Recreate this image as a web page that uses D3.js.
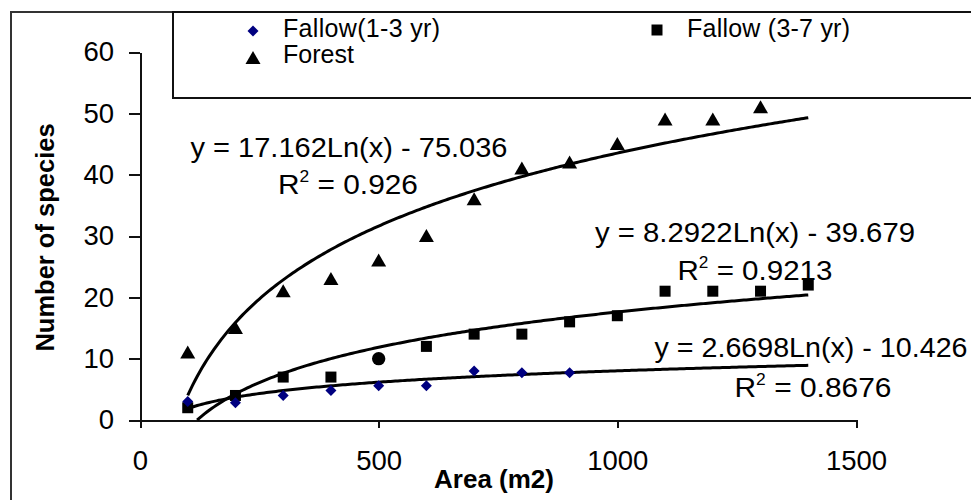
<!DOCTYPE html>
<html>
<head>
<meta charset="utf-8">
<script src="https://cdn.jsdelivr.net/npm/d3@7"></script>
<style>
  html, body { margin: 0; padding: 0; background: #fff; }
  svg { display: block; }
  text { font-family: "Liberation Sans", Arial, sans-serif; fill: #000; }
</style>
</head>
<body>
<svg id="chart" width="971" height="500"></svg>
<script>
// ---------------- data ----------------
const areas = [100, 200, 300, 400, 500, 600, 700, 800, 900, 1000, 1100, 1200, 1300, 1400];
const fallow13 = [3, 2.8, 4, 4.8, 5.6, 5.6, 8, 7.7, 7.7];            // areas 100..900
const fallow37 = [2, 4, 7, 7, 10, 12, 14, 14, 16, 17, 21, 21, 21, 22];
const forest   = [11, 15, 21, 23, 26, 30, 36, 41, 42, 45, 49, 49, 51];  // areas 100..1300
const seriesNames = ["Fallow(1-3 yr)", "Fallow (3-7 yr)", "Forest"];
const fitA = [2.6698, 8.2922, 17.162];   // y = a ln(x) + b
const fitB = [-10.426, -39.679, -75.036];
const fitR2 = ["0.8676", "0.9213", "0.926"];
const eqLabels = ["y = 2.6698Ln(x) - 10.426", "y = 8.2922Ln(x) - 39.679", "y = 17.162Ln(x) - 75.036"];
const xTicks = [0, 500, 1000, 1500];
const yTicks = [0, 10, 20, 30, 40, 50, 60];
const xTitle = "Area (m2)";
const yTitle = "Number of species";

// ---------------- layout ----------------
const svg = d3.select("#chart");
const x = d3.scaleLinear().domain([0, 1500]).range([140, 856]);
const y = d3.scaleLinear().domain([0, 60]).range([420, 52]);

// outer frame
svg.append("rect").attr("x", 11).attr("y", 12).attr("width", 1000).attr("height", 520)
  .attr("fill", "none").attr("stroke", "#333").attr("stroke-width", 2);

// legend box
svg.append("rect").attr("x", 173).attr("y", 12).attr("width", 900).attr("height", 86)
  .attr("fill", "#fff").attr("stroke", "#111").attr("stroke-width", 2);

// axes
const yAxis = d3.axisLeft(y).tickValues(yTicks).tickSize(11).tickSizeOuter(0).tickPadding(15);
const gy = svg.append("g").attr("transform", `translate(${x(0)},0)`).call(yAxis);
const xAxis = d3.axisBottom(x).tickValues(xTicks).tickFormat(d3.format("d"))
  .tickSize(8).tickSizeOuter(0).tickPadding(22);
const gx = svg.append("g").attr("transform", `translate(0,${y(0)})`).call(xAxis);
[gx, gy].forEach(g => {
  g.selectAll("path, line").attr("stroke", "#111").attr("stroke-width", 2).attr("shape-rendering", "crispEdges");
  g.selectAll("text").attr("font-size", 27.5).attr("font-family", "Liberation Sans, Arial, sans-serif").attr("fill", "#111");
});

// axis titles
svg.append("text").attr("x", 494).attr("y", 488).attr("text-anchor", "middle")
  .attr("font-size", 26).attr("font-weight", "bold").text(xTitle);
svg.append("text").attr("transform", "translate(54,237.5) rotate(-90)").attr("text-anchor", "middle")
  .attr("font-size", 25.5).attr("font-weight", "bold").text(yTitle);

// trendlines
const line = d3.line().x(d => x(d[0])).y(d => y(d[1]));
[0, 1, 2].forEach(i => {
  const pts = [];
  for (let a = 100; a <= 1400; a += 5) {
    const v = fitA[i] * Math.log(a) + fitB[i];
    if (v >= 0) pts.push([a, v]);
  }
  const x0 = Math.exp(-fitB[i] / fitA[i]);
  if (x0 > 100) pts.unshift([x0, 0]);
  svg.append("path").attr("d", line(pts)).attr("fill", "none")
    .attr("stroke", "#000").attr("stroke-width", 3);
});

// markers
const diamond = (cx, cy) => `M${cx},${cy-5.5}L${cx+5.5},${cy}L${cx},${cy+5.5}L${cx-5.5},${cy}Z`;
const square = (cx, cy) => `M${cx-5.5},${cy-5.5}h11v11h-11Z`;
const triangle = (cx, cy) => `M${cx},${cy-7}L${cx+7.5},${cy+6}L${cx-7.5},${cy+6}Z`;

svg.append("g").selectAll("path").data(forest).join("path")
  .attr("d", (d, i) => triangle(x(areas[i]), y(d))).attr("fill", "#000");
svg.append("g").selectAll("path").data(fallow37).join("path")
  .attr("d", (d, i) => i === 4
      ? d3.symbol(d3.symbolCircle, 140)()
      : square(x(areas[i]), y(d)))
  .attr("transform", (d, i) => i === 4 ? `translate(${x(areas[i])},${y(d)})` : null)
  .attr("fill", "#000");
svg.append("g").selectAll("path").data(fallow13).join("path")
  .attr("d", (d, i) => diamond(x(areas[i]), y(d))).attr("fill", "#000080");

// equations
const eqPos = [
  { cx: 811, by: 357, rcx: 813, rby: 397, w: 313, rw: 157 },
  { cx: 755, by: 242, rcx: 755, rby: 280, w: 320, rw: 155 },
  { cx: 349, by: 157, rcx: 348, rby: 194, w: 317, rw: 140 }
];
[0, 1, 2].forEach(i => {
  const p = eqPos[i];
  svg.append("text").attr("x", p.cx).attr("y", p.by).attr("text-anchor", "middle")
    .attr("font-size", 27.5).attr("textLength", p.w).attr("lengthAdjust", "spacingAndGlyphs")
    .text(eqLabels[i]);
  const t = svg.append("text").attr("x", p.rcx).attr("y", p.rby).attr("text-anchor", "middle")
    .attr("font-size", 27.5).attr("textLength", p.rw).attr("lengthAdjust", "spacingAndGlyphs");
  t.append("tspan").text("R");
  t.append("tspan").attr("font-size", 16).attr("dy", -12).text("2");
  t.append("tspan").attr("dy", 12).text(" = " + fitR2[i]);
});

// legend
const lg = svg.append("g");
lg.append("path").attr("d", diamond(253, 31)).attr("fill", "#000080");
lg.append("text").attr("x", 283).attr("y", 37).attr("font-size", 25).attr("textLength", 157)
  .attr("lengthAdjust", "spacing").text(seriesNames[0]);
lg.append("path").attr("d", square(657, 30)).attr("fill", "#000");
lg.append("text").attr("x", 687).attr("y", 37).attr("font-size", 25).attr("textLength", 163)
  .attr("lengthAdjust", "spacing").text(seriesNames[1]);
lg.append("path").attr("d", triangle(253, 58)).attr("fill", "#000");
lg.append("text").attr("x", 283).attr("y", 63).attr("font-size", 25).text(seriesNames[2]);
</script>
</body>
</html>
